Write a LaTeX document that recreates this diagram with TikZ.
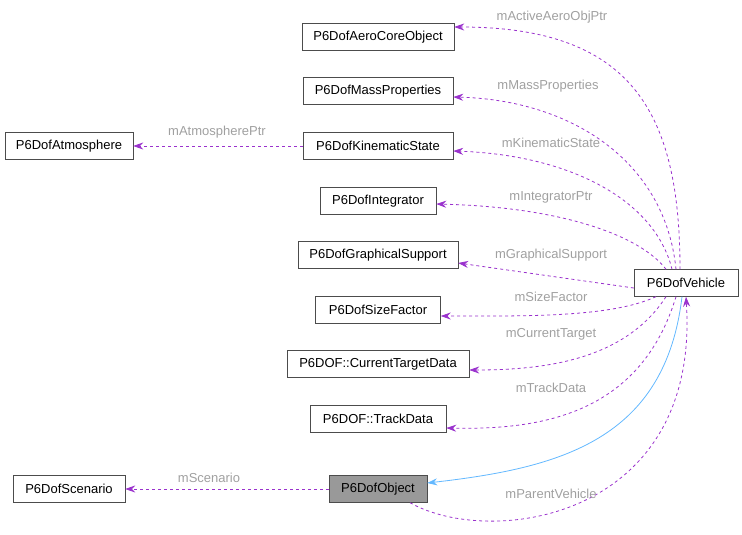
\documentclass[tikz,border=0pt]{standalone}
\usepackage{fontspec}
\setmainfont{Liberation Sans}
\usetikzlibrary{arrows.meta,positioning}
\definecolor{edgepurple}{RGB}{154,50,205}
\definecolor{edgeblue}{RGB}{99,184,255}
\definecolor{lblgray}{RGB}{160,160,160}
\definecolor{boxgray}{RGB}{153,153,153}
\tikzset{
  cls/.style={draw=black!70, fill=white, minimum height=27pt, inner xsep=3pt, font=\fontsize{13}{15}\selectfont},
  use/.style={draw=edgepurple, dashed, line width=0.8pt, -{Stealth[length=10pt,width=7pt]}},
  inh/.style={draw=edgeblue, line width=0.8pt, -{Stealth[length=10pt,width=7pt]}},
  lbl/.style={text=lblgray, font=\fontsize{13}{15}\selectfont}
}
\begin{document}
\begin{tikzpicture}[x=1pt,y=-1pt]
  \useasboundingbox (0,0) rectangle (742,535);
  % Class boxes
  \node[cls, minimum width=152pt] (aero) at (378,37) {P6DofAeroCoreObject};
  \node[cls, minimum width=150pt] (mass) at (378,91) {P6DofMassProperties};
  \node[cls, minimum width=128pt] (atmo) at (69,146) {P6DofAtmosphere};
  \node[cls, minimum width=150pt] (kin) at (378,146) {P6DofKinematicState};
  \node[cls, minimum width=116pt] (integ) at (378,201) {P6DofIntegrator};
  \node[cls, minimum width=160pt] (graph) at (378,255) {P6DofGraphicalSupport};
  \node[cls, minimum width=125pt] (size) at (378,310) {P6DofSizeFactor};
  \node[cls, minimum width=182pt] (target) at (378,364) {P6DOF::CurrentTargetData};
  \node[cls, minimum width=136pt] (track) at (378,419) {P6DOF::TrackData};
  \node[cls, minimum width=112pt] (scen) at (69,489) {P6DofScenario};
  \node[cls, minimum width=98pt, fill=boxgray] (obj) at (378,489) {P6DofObject};
  \node[cls, minimum width=104pt] (veh) at (686,283) {P6DofVehicle};

  % Members of the vehicle
  \draw[use] ([xshift=-6pt]veh.north) .. controls (680,110) and (630,27) .. ([yshift=10pt]aero.east);
  \draw[use] ([xshift=-10pt]veh.north) .. controls (665,160) and (570,100) .. ([yshift=-6pt]mass.east);
  \draw[use] ([xshift=-14pt]veh.north) .. controls (655,200) and (570,155) .. ([yshift=-5pt]kin.east);
  \draw[use] ([xshift=-20pt]veh.north) .. controls (640,235) and (560,207) .. ([yshift=-3pt]integ.east);
  \draw[use] ([yshift=-5pt]veh.west) -- ([yshift=-8pt]graph.east);
  \draw[use] ([xshift=-30pt]veh.south) .. controls (610,318) and (520,316) .. ([yshift=-6pt]size.east);
  \draw[use] ([xshift=-20pt]veh.south) .. controls (625,360) and (545,370) .. ([yshift=-6pt]target.east);
  \draw[use] ([xshift=-10pt]veh.south) .. controls (640,415) and (540,430) .. ([yshift=-9pt]track.east);
  \draw[use] (kin) -- (atmo);
  \draw[use] (obj) -- (scen);
  % Inheritance and back pointer
  \draw[inh] ([xshift=-4pt]veh.south) .. controls (665,440) and (560,468) .. ([yshift=6pt]obj.east);
  \draw[use] ([xshift=32pt]obj.south) .. controls (490,548) and (700,520) .. (veh.south);

  % Labels
  \node[lbl] (lAero) at (552,17) {mActiveAeroObjPtr};
  \node[lbl] (lMass) at (548,86) {mMassProperties};
  \node[lbl] (lAtmo) at (217,132) {mAtmospherePtr};
  \node[lbl] (lKin) at (551,143) {mKinematicState};
  \node[lbl] (lInteg) at (551,197) {mIntegratorPtr};
  \node[lbl] (lGraph) at (551,255) {mGraphicalSupport};
  \node[lbl] (lSize) at (551,297) {mSizeFactor};
  \node[lbl] (lTarget) at (551,334) {mCurrentTarget};
  \node[lbl] (lTrack) at (551,388) {mTrackData};
  \node[lbl] (lScen) at (209,478) {mScenario};
  \node[lbl] (lParent) at (551,494) {mParentVehicle};
\end{tikzpicture}
\end{document}
